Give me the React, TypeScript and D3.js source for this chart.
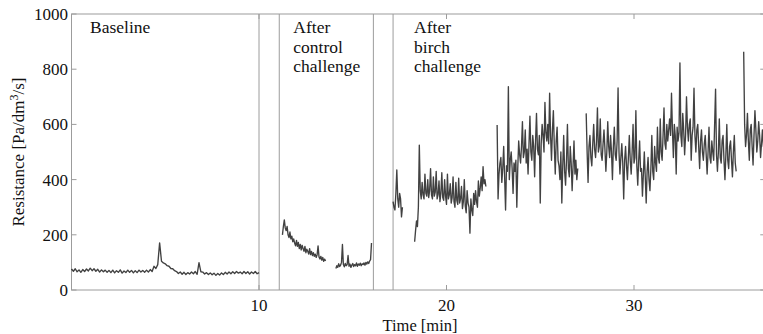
import React from "react";
import * as d3 from "d3";

// sampling intervals of the recorded trace, minutes
const coarseStep = 0.1;
const fineStep = 0.05;

const baselineStart = 0;
const baselineValues = [
  76, 68, 77, 66, 73, 64, 74, 67, 76, 69,
  79, 70, 77, 68, 75, 65, 73, 66, 72, 64,
  71, 63, 72, 62, 70, 64, 73, 61, 69, 63,
  72, 64, 71, 62, 70, 63, 72, 65, 71, 64,
  72, 65, 74, 67, 86, 78, 92, 171, 104, 98,
  95, 88, 86, 78, 77, 70, 67, 60, 65, 57,
  64, 56, 63, 58, 65, 59, 67, 57, 99, 66,
  65, 58, 63, 56, 62, 55, 61, 53, 60, 54,
  62, 56, 64, 58, 65, 59, 66, 60, 67, 61,
  65, 59, 67, 60, 66, 58, 65, 60, 67, 59,
  63,
];

const controlStartA = 11.25;
const controlValuesA = [
  200, 230, 254, 225, 215, 230, 200, 190, 210, 185,
  195, 175, 185, 170, 160, 180, 158, 172, 150, 165,
  145, 162, 150, 140, 158, 135, 148, 140, 130, 150,
  128, 140, 125, 135, 122, 130, 118, 128, 160, 120,
  112, 122, 108, 118, 104, 112, 105,
];

const controlStartB = 14.1;
const controlValuesB = [
  78, 88, 82, 95, 85, 90, 100, 165, 92, 84,
  96, 88, 92, 125, 86, 94, 82, 90, 96, 85,
  92, 88, 98, 86, 94, 90, 97, 88, 95, 92,
  98, 90, 100, 94, 102, 96, 105, 110, 170,
];

const birchStartA = 17.15;
const birchValuesA = [320, 300, 290, 350, 435, 330, 300, 350, 330, 265, 300];

const birchStartB = 18.3;
const birchValuesB = [
  175, 215, 250, 230, 300, 525, 360, 330, 390, 345,
  330, 420, 350, 340, 400, 335, 360, 440, 345, 330,
  410, 340, 355, 430, 330, 345, 395, 320, 350, 425,
  335, 325, 400, 340, 310, 420, 330, 345, 385, 315,
  335, 410, 320, 300, 390, 325, 310, 405, 315, 330,
  375, 295, 320, 400, 305, 280, 360, 315, 300, 206,
  330, 290, 270, 350, 310, 360, 320, 300, 395, 340,
  370, 410, 360, 447, 385, 400, 375,
];

const birchStartC = 22.7;
const birchValuesC = [
  598, 330, 420, 460, 480, 390, 440, 520, 410, 290,
  450, 430, 737, 400, 470, 500, 440, 350, 460, 430,
  470, 300, 440, 540, 490, 460, 520, 610, 480, 500,
  580, 460, 510, 420, 530, 630, 500, 470, 560, 520,
  410, 540, 640, 510, 490, 560, 315, 530, 600, 560,
  500, 680, 570, 540, 600, 530, 713, 560, 470, 580,
  650, 520, 420, 540, 590, 470, 450, 400, 500, 315,
  450, 560, 430, 380, 470, 600, 440, 410, 520, 460,
  360, 450, 540, 420, 470, 400, 440,
];

const birchStartD = 27.45;
const birchValuesD = [
  640, 500, 390, 520, 560, 480, 450, 530, 600, 510,
  480, 540, 660, 500, 520, 620, 490, 470, 530, 580,
  510, 430, 500, 610, 520, 480, 560, 500, 400, 520,
  590, 490, 470, 540, 732, 500, 420, 480, 530, 460,
  330, 470, 520, 450, 400, 480, 560, 470, 420, 500,
  600, 460, 480, 650, 450, 380, 470, 540, 430, 440,
  340, 420, 500, 410, 315, 430, 480, 400, 360, 440,
  560, 430, 400, 520, 460, 430, 590, 480, 460, 620,
  500, 470, 560, 660, 530, 510, 600, 540, 580, 620,
  560, 713, 580, 480, 600, 560, 420, 590, 540, 570,
  823, 560, 520, 640, 580, 490, 560, 700, 590, 540,
  600, 620, 470, 560, 590, 731, 560, 500, 580, 600,
  520, 440, 540, 580, 500, 470, 530, 560, 490, 420,
  500, 590, 480, 460, 540, 500, 470, 600, 728, 490,
  430, 500, 620, 480, 460, 540, 560, 470, 400, 490,
  600, 470, 440, 520, 540, 470, 410, 500, 560, 460,
  430,
];

const birchStartE = 35.85;
const birchValuesE = [
  863, 600, 520, 560, 640, 540, 470, 580, 600, 520,
  453, 560, 650, 580, 500, 540, 610, 560, 480, 530,
  580, 520, 560,
];

const segments = [
  { start: baselineStart, step: coarseStep, values: baselineValues },
  { start: controlStartA, step: fineStep, values: controlValuesA },
  { start: controlStartB, step: fineStep, values: controlValuesB },
  { start: birchStartA, step: fineStep, values: birchValuesA },
  { start: birchStartB, step: fineStep, values: birchValuesB },
  { start: birchStartC, step: fineStep, values: birchValuesC },
  { start: birchStartD, step: fineStep, values: birchValuesD },
  { start: birchStartE, step: fineStep, values: birchValuesE },
];

const markerTimes = [10, 11.08, 16.1, 17.15];
const xTicks = [10, 20, 30];
const yTicks = [0, 200, 400, 600, 800, 1000];

const phaseLabels = [
  { t: 0.99, lines: ["Baseline"] },
  { t: 11.83, lines: ["After", "control", "challenge"] },
  { t: 18.27, lines: ["After", "birch", "challenge"] },
];

const W = 763;
const H = 334;
const left = 71.5;
const right = 765.25;
const top = 14;
const bottom = 290;
const axisColor = "#9c9c9c";
const font = "'Liberation Serif', 'Times New Roman', serif";

export default function App() {
  const x = d3.scaleLinear().domain([0, 37]).range([left, right]);
  const y = d3.scaleLinear().domain([0, 1000]).range([bottom, top]);

  return (
    <svg
      width={W}
      height={H}
      style={{ position: "absolute", left: 0, top: 0, background: "#fff" }}
      fontFamily={font}
    >
      {/* plot frame */}
      <rect
        x={left}
        y={top}
        width={right - left}
        height={bottom - top}
        fill="none"
        stroke={axisColor}
        strokeWidth={1}
      />

      {/* ticks, pointing inward on all four sides */}
      {xTicks.map((t) => (
        <g key={"xt" + t}>
          <line x1={x(t)} x2={x(t)} y1={bottom} y2={bottom - 5} stroke={axisColor} />
          <line x1={x(t)} x2={x(t)} y1={top} y2={top + 5} stroke={axisColor} />
          <text x={x(t)} y={311} textAnchor="middle" fontSize={17} fill="#111">
            {t}
          </text>
        </g>
      ))}
      {yTicks.map((v) => (
        <g key={"yt" + v}>
          <line x1={left} x2={left + 5} y1={y(v)} y2={y(v)} stroke={axisColor} />
          <line x1={right} x2={right - 5} y1={y(v)} y2={y(v)} stroke={axisColor} />
          <text x={68} y={y(v)} dy="0.35em" textAnchor="end" fontSize={17} fill="#111">
            {v}
          </text>
        </g>
      ))}

      {/* phase separators */}
      {markerTimes.map((t) => (
        <line
          key={"m" + t}
          x1={x(t)}
          x2={x(t)}
          y1={top}
          y2={bottom}
          stroke={axisColor}
          strokeWidth={1}
        />
      ))}

      {/* resistance trace */}
      {segments.map((s, k) => (
        <path
          key={"s" + k}
          d={
            d3
              .line<number>()
              .x((_, i) => x(s.start + i * s.step))
              .y((d) => y(d))(s.values) || ""
          }
          fill="none"
          stroke="#202020"
          strokeWidth={1.35}
          strokeOpacity={0.85}
          strokeLinejoin="round"
        />
      ))}

      {/* phase labels */}
      {phaseLabels.map((p, k) => (
        <text key={"p" + k} x={x(p.t)} y={33} fontSize={17.5} fill="#111">
          {p.lines.map((l, j) => (
            <tspan key={j} x={x(p.t)} y={33 + j * 19.5}>
              {l}
            </tspan>
          ))}
        </text>
      ))}

      {/* axis titles */}
      <text x={420} y={331} textAnchor="middle" fontSize={16.5} fill="#111">
        Time [min]
      </text>
      <text
        transform={`translate(24, ${(top + bottom) / 2}) rotate(-90)`}
        textAnchor="middle"
        fontSize={17}
        fill="#111"
      >
        Resistance [Pa/dm
        <tspan dy={-6} fontSize={12}>3</tspan>
        <tspan dy={6}>/s]</tspan>
      </text>
    </svg>
  );
}
